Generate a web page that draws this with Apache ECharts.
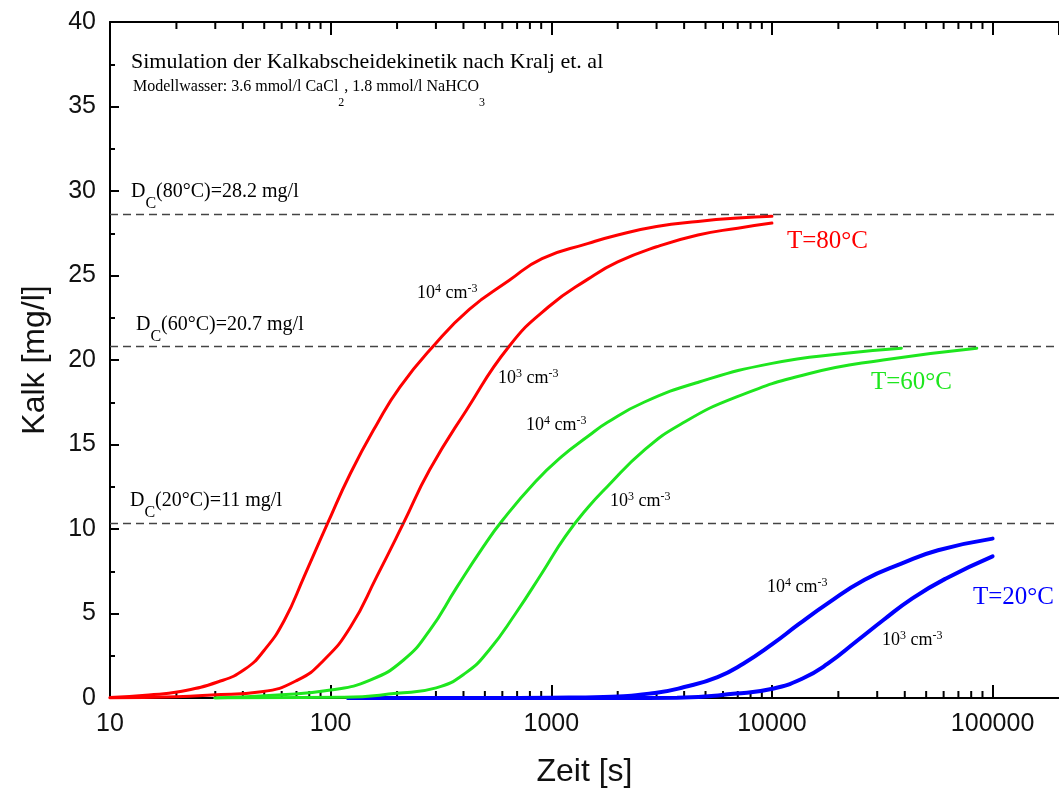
<!DOCTYPE html>
<html>
<head>
    <meta charset="utf-8">
    <title>Kalkabscheidekinetik</title>
    <script src="https://cdn.jsdelivr.net/npm/echarts@6/dist/echarts.min.js"></script>
    <style>
        html, body { margin: 0; padding: 0; background: #fff; }
    </style>
</head>
<body>
    <div id="main" style="width:1059px;height:795px;"></div>

    <script type="text/javascript">
        // Zeit [s] / Kalk [mg/l]
        var t80_4 = [10, 15, 20.5, 31, 40.8, 50.1, 61.7, 75.9, 96.6, 123, 162, 206, 291, 425, 643, 908, 1472, 2000, 3000, 4620, 7000, 10000];
        var v80_4 = [0.03, 0.18, 0.37, 0.96, 1.7, 2.84, 4.6, 7.2, 10.3, 13.3, 16.2, 18.4, 20.8, 23.0, 24.7, 26.0, 26.9, 27.4, 27.9, 28.2, 28.4, 28.5];

        var t80_3 = [10, 20, 28.9, 48.5, 70.8, 93.3, 123, 162, 213, 281, 411, 643, 973, 1472, 2000, 3000, 4620, 7000, 10000];
        var v80_3 = [0, 0.08, 0.18, 0.37, 1.06, 2.25, 4.2, 7.2, 10.3, 13.5, 17.0, 20.8, 23.15, 24.8, 25.8, 26.7, 27.4, 27.8, 28.1];

        var t60_4 = [29.9, 57.6, 100, 151, 214, 281, 371, 489, 600, 847, 1117, 1472, 1792, 2630, 4677, 10000, 21700, 38600];
        var v60_4 = [0, 0.18, 0.47, 1.06, 2.25, 4.0, 6.5, 8.9, 10.5, 12.8, 14.3, 15.5, 16.3, 17.5, 18.7, 19.8, 20.4, 20.7];

        var t60_3 = [29.9, 115, 199, 301, 411, 523, 689, 908, 1156, 1472, 1792, 2630, 3860, 6870, 14800, 31900, 84800];
        var v60_3 = [0, 0.04, 0.28, 0.6, 1.5, 2.84, 5.0, 7.4, 9.55, 11.3, 12.5, 14.65, 16.2, 17.8, 19.2, 20.0, 20.7];

        var t20_4 = [120, 500, 1000, 1725, 2950, 4010, 5670, 7410, 10070, 13180, 17900, 26300, 38600, 56600, 100000];
        var v20_4 = [0, 0, 0.02, 0.06, 0.3, 0.65, 1.24, 2.03, 3.2, 4.35, 5.6, 7.0, 7.95, 8.74, 9.43];

        var t20_3 = [120, 1000, 2000, 3715, 6870, 10070, 13700, 17900, 24400, 31900, 43300, 61200, 100000];
        var v20_3 = [0, 0, 0, 0.02, 0.26, 0.55, 1.14, 2.03, 3.4, 4.6, 5.9, 7.06, 8.38];

        // Sättigungsgrenzen (gestrichelte Linien)
        var dcLevels = [28.6, 20.8, 10.35];

        // Nebenstriche der log-Achse
        var minorTicks = [];
        [10, 100, 1000, 10000].forEach(function (d) {
            for (var k = 2; k <= 9; k++) minorTicks.push([k * d]);
        });

        var RED = '#ff0000', GREEN = '#1ee61e', BLUE = '#0000ff';
        var SERIF = 'Liberation Serif';
        var SANS = 'Liberation Sans';

        function pairs(xs, ys) {
            return xs.map(function (x, i) { return [x, ys[i]]; });
        }

        function curve(name, xs, ys, color, width) {
            return {
                name: name,
                type: 'line',
                data: pairs(xs, ys),
                showSymbol: false,
                smooth: 0.5,
                lineStyle: { color: color, width: width, cap: 'round' },
                itemStyle: { color: color },
                silent: true
            };
        }

        var supRich = {
            n: { fontFamily: SERIF, fontSize: 18, color: '#000' },
            p: { fontFamily: SERIF, fontSize: 12, color: '#000', padding: [0, 0, 8, 0] }
        };
        var dcRich = {
            n: { fontFamily: SERIF, fontSize: 20, color: '#000' },
            s: { fontFamily: SERIF, fontSize: 16, color: '#000', padding: [24, 0, 0, 0] }
        };
        var subRich = {
            n: { fontFamily: SERIF, fontSize: 16, color: '#000' },
            s: { fontFamily: SERIF, fontSize: 12, color: '#000', padding: [32, 0, 0, 0] }
        };

        function txt(x, y, text, rich, extra) {
            var style = { x: x, y: y, text: text, verticalAlign: 'middle', align: 'left' };
            if (rich) style.rich = rich;
            for (var k in extra) style[k] = extra[k];
            return { type: 'text', silent: true, style: style };
        }

        var cmLabel = '{n|10}{p|4}{n| cm}{p|-3}';
        var cmLabel3 = '{n|10}{p|3}{n| cm}{p|-3}';

        var myChart = echarts.init(document.getElementById('main'));

        var red4 = curve('80_4', t80_4, v80_4, RED, 3);
        red4.markLine = {
            silent: true,
            symbol: ['none', 'none'],
            label: { show: false },
            lineStyle: { color: '#444', width: 1.3, type: [8, 5] },
            data: dcLevels.map(function (v) { return { yAxis: v }; })
        };

        var option = {
            animation: false,
            backgroundColor: '#fff',
            grid: { left: 110, top: 22, width: 954, height: 676 },
            xAxis: [{
                type: 'log',
                logBase: 10,
                min: 10,
                max: 200000,
                name: 'Zeit [s]',
                nameLocation: 'middle',
                nameGap: 58,
                nameTextStyle: { fontFamily: SANS, fontSize: 32, color: '#111' },
                axisLine: { lineStyle: { color: '#000', width: 2 } },
                axisTick: { inside: true, length: 13, lineStyle: { color: '#000', width: 2 } },
                axisLabel: {
                    fontFamily: SANS, fontSize: 25, color: '#111', margin: 14,
                    showMaxLabel: false,
                    formatter: function (v) { return String(Math.round(v)); }
                },
                splitLine: { show: false }
            }, {
                type: 'log',
                logBase: 10,
                min: 10,
                max: 200000,
                position: 'top',
                axisLine: { lineStyle: { color: '#000', width: 2 } },
                axisTick: { inside: true, length: 13, lineStyle: { color: '#000', width: 2 } },
                axisLabel: { show: false },
                splitLine: { show: false }
            }],
            yAxis: {
                type: 'value',
                min: 0,
                max: 40,
                interval: 5,
                name: 'Kalk [mg/l]',
                nameLocation: 'middle',
                nameGap: 59,
                nameTextStyle: { fontFamily: SANS, fontSize: 32, color: '#111' },
                axisLine: { show: true, lineStyle: { color: '#000', width: 2 } },
                axisTick: { show: true, inside: true, length: 9, lineStyle: { color: '#000', width: 2 } },
                minorTick: { show: true, splitNumber: 2, length: 5, lineStyle: { color: '#000', width: 2 } },
                axisLabel: { fontFamily: SANS, fontSize: 25, color: '#111', margin: 14 },
                splitLine: { show: false }
            },
            series: [
                {
                    type: 'custom',
                    silent: true,
                    xAxisIndex: 0,
                    yAxisIndex: 0,
                    data: minorTicks,
                    encode: { x: 0 },
                    renderItem: function (params, api) {
                        var x = api.value(0);
                        var b = api.coord([x, 0]);
                        var t = api.coord([x, 40]);
                        return {
                            type: 'group',
                            children: [
                                { type: 'line', shape: { x1: b[0], y1: b[1], x2: b[0], y2: b[1] - 7 }, style: { stroke: '#000', lineWidth: 2 } },
                                { type: 'line', shape: { x1: t[0], y1: t[1], x2: t[0], y2: t[1] + 7 }, style: { stroke: '#000', lineWidth: 2 } }
                            ]
                        };
                    }
                },
                curve('20_4', t20_4, v20_4, BLUE, 4),
                curve('20_3', t20_3, v20_3, BLUE, 4),
                curve('60_4', t60_4, v60_4, GREEN, 3),
                curve('60_3', t60_3, v60_3, GREEN, 3),
                curve('80_3', t80_3, v80_3, RED, 3),
                red4
            ],
            graphic: [
                txt(131, 62.5, 'Simulation der Kalkabscheidekinetik nach Kralj et. al', null,
                    { fontFamily: SERIF, fontSize: 22, fill: '#000' }),
                txt(133, 86.7, '{n|Modellwasser: 3.6 mmol/l CaCl}{s|2}{n|, 1.8 mmol/l NaHCO}{s|3}', subRich),
                txt(131, 191.5, '{n|D}{s|C}{n|(80°C)=28.2 mg/l}', dcRich),
                txt(136, 325, '{n|D}{s|C}{n|(60°C)=20.7 mg/l}', dcRich),
                txt(130, 500.5, '{n|D}{s|C}{n|(20°C)=11 mg/l}', dcRich),
                txt(417, 293, cmLabel, supRich),
                txt(498, 378, cmLabel3, supRich),
                txt(526, 425, cmLabel, supRich),
                txt(610, 501, cmLabel3, supRich),
                txt(767, 587, cmLabel, supRich),
                txt(882, 640, cmLabel3, supRich),
                txt(787, 241.5, 'T=80°C', null, { fontFamily: SERIF, fontSize: 25, fill: RED }),
                txt(871, 382.5, 'T=60°C', null, { fontFamily: SERIF, fontSize: 25, fill: GREEN }),
                txt(973, 597, 'T=20°C', null, { fontFamily: SERIF, fontSize: 25, fill: BLUE })
            ]
        };

        myChart.setOption(option);
    </script>
</body>
</html>
